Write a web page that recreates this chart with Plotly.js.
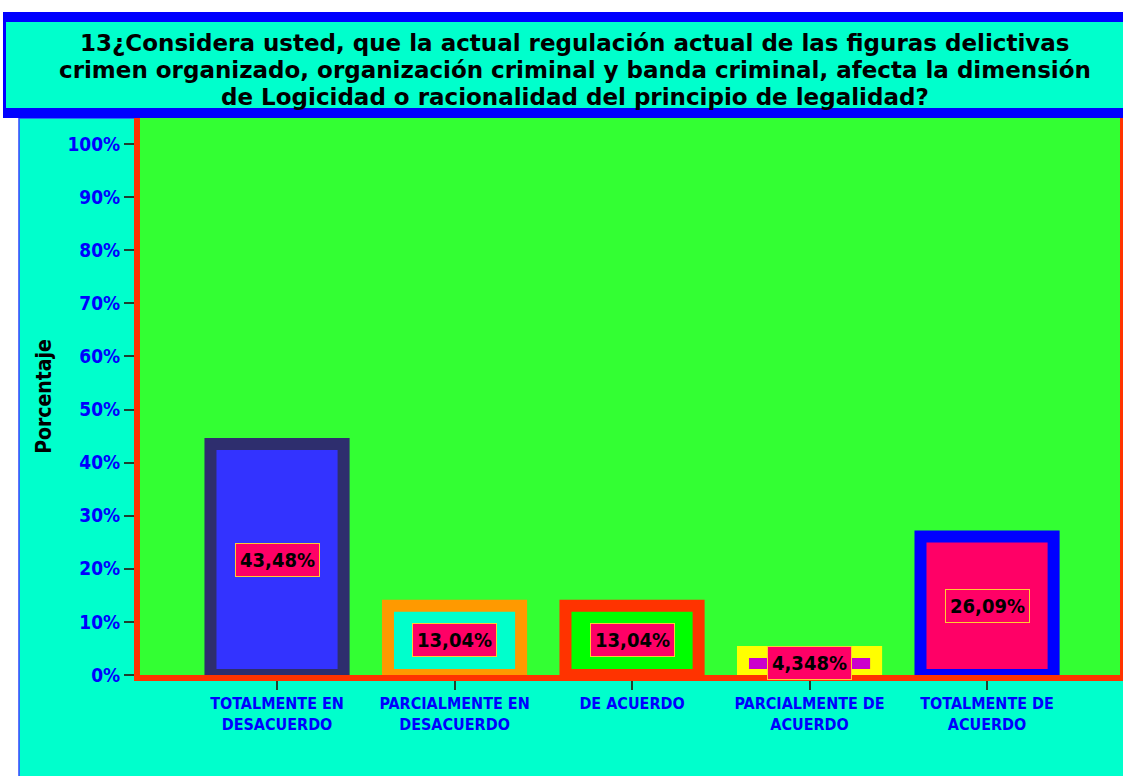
<!DOCTYPE html>
<html>
<head>
<meta charset="utf-8">
<script src="https://cdn.plot.ly/plotly-3.0.1.min.js"></script>
<style>html,body{margin:0;padding:0;background:#fff;}#chart{width:1123px;height:776px;}</style>
</head>
<body>
<div id="chart"></div>
<script>
const categories = ["TOTALMENTE EN<br>DESACUERDO","PARCIALMENTE EN<br>DESACUERDO","DE ACUERDO","PARCIALMENTE DE<br>ACUERDO","TOTALMENTE DE<br>ACUERDO"];
const values = [43.48, 13.04, 13.04, 4.348, 26.09];
const valueLabels = ["43,48%","13,04%","13,04%","4,348%","26,09%"];
const fillColors = ["#3333FF","#00FFCC","#00FF00","#CC00CC","#FF0066"];
const borderColors = ["#2E2E6E","#FF9900","#FF3300","#FFFF00","#0000FF"];
const yTickVals = [0,10,20,30,40,50,60,70,80,90,100];
const yTickText = yTickVals.map(v => v + "%");
const titleLines = [
  "13¿Considera usted, que la actual regulación actual de las figuras delictivas",
  "crimen organizado, organización criminal y banda criminal, afecta la dimensión",
  "de Logicidad o racionalidad del principio de legalidad?"
];

const W = 1123, H = 776;
const L = 140, R = 3, T = 118, B = 101;
const pw = W - L - R, ph = H - T - B;
const px = x => (x - L) / pw;
const py = y => (H - B - y) / ph;

const idx = categories.map((c, i) => i);
const cond = "DejaVu Sans Condensed";

const trace = {
  type: "bar",
  x: idx,
  y: values,
  width: 0.75,
  cliponaxis: false,
  marker: { color: fillColors, line: { color: borderColors, width: 12 } },
  hoverinfo: "skip"
};

const annotations = idx.map(i => ({
  x: i, y: values[i] / 2, xref: "x", yref: "y",
  text: valueLabels[i], showarrow: false,
  font: { family: cond, size: 20, color: "#000", weight: "bold", stretch: "condensed" },
  bgcolor: "#FF0066", bordercolor: "#FFCC33", borderwidth: 1, borderpad: 4
}));

const titleCenters = [43, 70, 97];
titleLines.forEach((t, i) => annotations.push({
  x: px(575), xref: "paper", y: py(titleCenters[i]), yref: "paper",
  xanchor: "center", yanchor: "middle",
  text: t, showarrow: false,
  font: { family: "DejaVu Sans", size: 23, color: "#000", weight: "bold" }
}));

const layout = {
  width: W, height: H,
  margin: { l: L, r: R, t: T, b: B },
  paper_bgcolor: "#FFFFFF",
  plot_bgcolor: "rgba(0,0,0,0)",
  showlegend: false,
  xaxis: {
    range: [-0.772, 4.749],
    tickvals: idx, ticktext: categories,
    ticks: "outside", ticklen: 9, tickwidth: 2, tickcolor: "#1F3F2F",
    tickfont: { family: cond, size: 16, color: "#0000FF", weight: "bold", stretch: "condensed" },
    showline: true, linecolor: "#FF3300", linewidth: 6, mirror: true,
    showgrid: false, zeroline: false, fixedrange: true
  },
  yaxis: {
    range: [0, ph / 5.31],
    tickvals: yTickVals, ticktext: yTickText,
    ticks: "outside", ticklen: 10, tickwidth: 2, tickcolor: "#1F3F2F",
    tickfont: { family: cond, size: 19, color: "#0000FF", weight: "bold", stretch: "condensed" },
    showline: true, linecolor: "#FF3300", linewidth: 6, mirror: true,
    showgrid: false, zeroline: false, fixedrange: true,
    title: { text: "Porcentaje", standoff: 12, font: { family: cond, size: 21, color: "#000", weight: "bold", stretch: "condensed" } }
  },
  shapes: [
    { type: "rect", xref: "paper", yref: "paper", layer: "below",
      x0: px(19), x1: px(1130), y0: py(118), y1: py(790),
      fillcolor: "#00FFCC", line: { color: "#3344FF", width: 1.5 } },
    { type: "rect", xref: "paper", yref: "paper", layer: "below",
      x0: 0, x1: 1, y0: 0, y1: 1,
      fillcolor: "#33FF33", line: { width: 0 } },
    { type: "rect", xref: "paper", yref: "paper", layer: "above",
      x0: px(3), x1: px(1130), y0: py(118), y1: py(12),
      fillcolor: "#0000FF", line: { width: 0 } },
    { type: "rect", xref: "paper", yref: "paper", layer: "above",
      x0: px(6), x1: px(1130), y0: py(108), y1: py(22),
      fillcolor: "#00FFCC", line: { width: 0 } }
  ],
  annotations: annotations
};

Plotly.newPlot("chart", [trace], layout, { displayModeBar: false, staticPlot: true });
</script>
</body>
</html>
